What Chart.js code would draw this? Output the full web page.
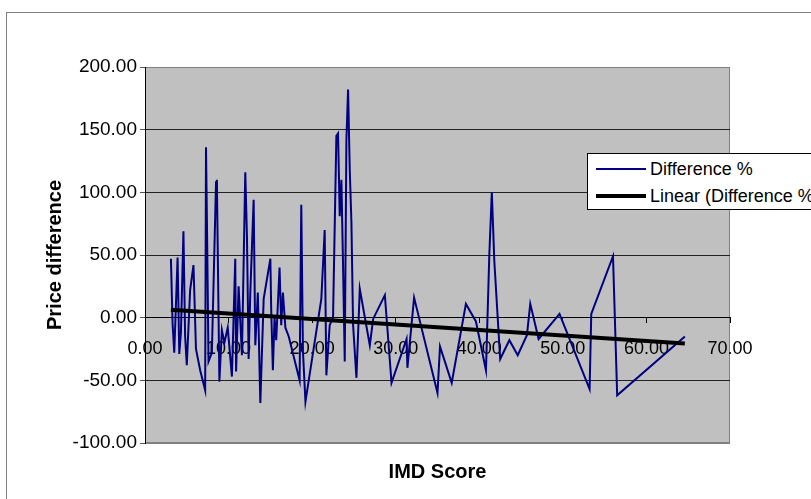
<!DOCTYPE html>
<html>
<head>
<meta charset="utf-8">
<script src="https://cdn.jsdelivr.net/npm/chart.js@4"></script>
<style>
  body { margin: 0; width: 811px; height: 499px; overflow: hidden; background: #fff; position: relative; font-family: "Liberation Sans", Arial, sans-serif; }
  #frame { position: absolute; left: 6px; top: 12px; width: 900px; height: 600px; border: 1px solid #808080; }
  #chart { position: absolute; left: 0; top: 0; }
  #legend { position: absolute; left: 587px; top: 153px; width: 260px; height: 55px; border: 1px solid #000; background: #fff; }
  .row { position: absolute; left: 8px; height: 22px; font-size: 18px; line-height: 22px; white-space: nowrap; }
  .row span.swatch { position: absolute; left: 0; width: 50px; }
  .row span.txt { position: absolute; left: 54px; }
</style>
</head>
<body>
<div id="frame"></div>
<canvas id="chart" width="811" height="499"></canvas>
<div id="legend">
  <div class="row" style="top:4px"><span class="swatch" style="top:10px;border-top:2px solid #000080"></span><span class="txt">Difference %</span></div>
  <div class="row" style="top:31px"><span class="swatch" style="top:9px;border-top:4px solid #000"></span><span class="txt">Linear (Difference %)</span></div>
</div>
<script>
// IMD score (x) and price difference % (y), in the order the line joins them
const imdScore = [
  3.1, 3.3, 3.5, 3.9, 4.1, 4.3, 4.6, 4.8, 5.0, 5.4,
  5.8, 6.1, 6.6, 7.2, 7.3, 7.45, 7.6, 8.0, 8.5, 8.6,
  8.9, 9.2, 9.5, 9.9, 10.4, 10.8, 10.9, 11.2, 11.6, 12.0,
  12.2, 12.4, 12.6, 13.0, 13.2, 13.5, 13.8, 14.2, 15.0, 15.1,
  15.3, 15.5, 15.7, 16.1, 16.3, 16.5, 16.8, 17.2, 18.5, 18.7,
  18.9, 19.2, 21.1, 21.5, 21.7, 22.1, 22.5, 22.9, 23.1, 23.3,
  23.5, 23.7, 23.9, 24.1, 24.3, 24.5, 24.7, 24.9, 25.3, 25.7,
  26.9, 27.3, 28.7, 29.5, 31.3, 31.4, 32.2, 35.0, 35.3, 36.7,
  38.4, 39.6, 40.8, 41.2, 41.5, 41.8, 42.5, 43.6, 44.6, 45.7,
  46.1, 47.1, 49.6, 53.2, 53.4, 56.0, 56.5, 64.6
];
const priceDiff = [
  47, -5, -28, 48, -29, -12, 69, -15, -38, 22,
  42, -25, -42, -58, 136, 55, -35, -28, 108, 110,
  -51, -10, -20, -8, -47, 47, -43, 25, -30, 116,
  65, -33, 20, 94, -22, 20, -68, 15, 47, 7,
  -42, 0, -18, 40, -6, 20, -8, -15, -50, 90,
  -27, -67, 15, 70, -46, -6, 0, 145, 147, 81,
  110, 41, -35, 142, 182, 118, 76, -6, -48, 23,
  -22, -1, 18, -52, -17, -40, 16, -60, -23, -52,
  11, -3, -42, 50, 100, 45, -33, -18, -30, -14,
  11, -17, 3, -57, 3, 49, -62, -15
];
// linear trendline end points
const trendX = [3.1, 64.6];
const trendY = [6.3, -20.6];

const yTicks = [-100, -50, 0, 50, 100, 150, 200];

const points = imdScore.map((x, i) => ({ x: x, y: priceDiff[i] }));
const trend = trendX.map((x, i) => ({ x: x, y: trendY[i] }));

const font = '"Liberation Sans", Arial, sans-serif';

// grey plot background + frame
const plotBg = {
  id: "plotBg",
  beforeDraw(chart) {
    const a = chart.chartArea;
    const ctx = chart.ctx;
    ctx.save();
    ctx.fillStyle = "#c0c0c0";
    ctx.fillRect(a.left, a.top, a.right - a.left, a.bottom - a.top);
    ctx.strokeStyle = "#808080";
    ctx.lineWidth = 1;
    ctx.strokeRect(a.left + 0.5, a.top + 0.5, a.right - a.left - 1, a.bottom - a.top - 1);
    ctx.restore();
  }
};

new Chart(document.getElementById("chart"), {
  type: "scatter",
  data: {
    datasets: [
      {
        label: "Difference %",
        data: points,
        showLine: true,
        borderColor: "#000080",
        borderWidth: 2,
        pointRadius: 0,
        order: 1
      },
      {
        label: "Linear (Difference %)",
        data: trend,
        showLine: true,
        borderColor: "#000",
        borderWidth: 4,
        pointRadius: 0,
        order: 0
      }
    ]
  },
  options: {
    responsive: false,
    animation: false,
    layout: { padding: { left: 10, right: 81, top: 67, bottom: 0 } },
    plugins: { legend: { display: false }, tooltip: { enabled: false } },
    scales: {
      x: {
        type: "linear",
        position: { y: 0 },
        min: 0,
        max: 70,
        ticks: {
          stepSize: 10,
          color: "#000",
          padding: 16,
          font: { family: font, size: 18 },
          callback: v => v.toFixed(2)
        },
        grid: { drawOnChartArea: false, drawTicks: true, tickLength: 5, color: "#000" },
        border: { color: "#000" }
      },
      x2: {
        type: "linear",
        position: "bottom",
        min: 0,
        max: 70,
        ticks: { display: false },
        grid: { display: false },
        border: { display: false },
        title: {
          display: true,
          text: "IMD Score",
          color: "#000",
          padding: { top: 0, bottom: 15 },
          font: { family: font, size: 20, weight: "bold" }
        },
        afterFit: s => { s.height = 56; }
      },
      y: {
        min: -100,
        max: 200,
        afterBuildTicks: s => { s.ticks = yTicks.map(v => ({ value: v })); },
        ticks: {
          color: "#000",
          padding: 3,
          font: { family: font, size: 19 },
          callback: v => v.toFixed(2)
        },
        grid: {
          color: c => (c.tick && (c.tick.value === 200 || c.tick.value === -100)) ? "#808080" : "#222",
          tickColor: "#555",
          tickLength: 5
        },
        border: { color: "#000" },
        title: {
          display: true,
          text: "Price difference",
          color: "#000",
          padding: { top: 33, bottom: 0 },
          font: { family: font, size: 20, weight: "bold" }
        },
        afterFit: s => { s.width = 135; }
      }
    }
  },
  plugins: [plotBg]
});
</script>
</body>
</html>
